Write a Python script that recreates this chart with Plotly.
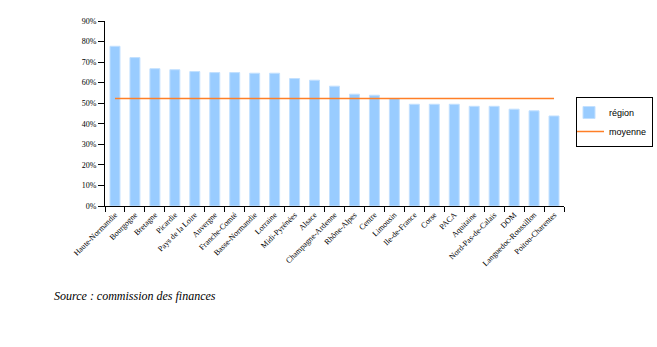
import plotly.graph_objects as go

regions = ["Haute-Normandie", "Bourgogne", "Bretagne", "Picardie", "Pays de la Loire",
           "Auvergne", "Franche-Comté", "Basse-Normandie", "Lorraine", "Midi-Pyrénées",
           "Alsace", "Champagne-Ardenne", "Rhône-Alpes", "Centre", "Limousin",
           "Ile-de-France", "Corse", "PACA", "Aquitaine", "Nord-Pas-de-Calais", "DOM",
           "Languedoc-Roussillon", "Poitou-Charentes"]
region_values = [0.777, 0.722, 0.668, 0.663, 0.654, 0.649, 0.649, 0.646, 0.646, 0.620,
                 0.612, 0.583, 0.544, 0.539, 0.523, 0.495, 0.495, 0.495, 0.485, 0.485,
                 0.471, 0.463, 0.438]
moyenne = 0.523
moyenne_values = [moyenne] * len(regions)
y_ticks = [0, 0.1, 0.2, 0.3, 0.4, 0.5, 0.6, 0.7, 0.8, 0.9]
y_labels = ["0%", "10%", "20%", "30%", "40%", "50%", "60%", "70%", "80%", "90%"]

fig = go.Figure()
fig.add_trace(go.Bar(x=regions, y=region_values, name="région", width=0.5,
                     marker=dict(color="#99CCFF", line=dict(color="#C2E0FF", width=1))))
fig.add_trace(go.Scatter(x=regions, y=moyenne_values, name="moyenne", mode="lines",
                         line=dict(color="#FF7F27", width=1.5)))

fig.update_layout(
    width=657, height=347,
    margin=dict(l=105, r=90, t=21, b=141),
    paper_bgcolor="white", plot_bgcolor="white",
    font=dict(family="Liberation Serif", size=8, color="black"),
    showlegend=True,
    legend=dict(xref="container", yref="container", x=576 / 657, y=1 - 97 / 347,
                xanchor="left", yanchor="top",
                bordercolor="black", borderwidth=1, bgcolor="white",
                font=dict(family="Liberation Sans", size=9, color="black"),
                tracegroupgap=0, itemwidth=30, indentation=-8),
    xaxis=dict(type="category", range=[-0.5, len(regions) - 0.5], tickangle=-45,
               showline=True, linecolor="black", linewidth=1,
               ticks="outside", tickson="boundaries", ticklen=5, tickcolor="black",
               showgrid=False, tickfont=dict(family="Liberation Serif", size=8)),
    yaxis=dict(range=[0, 0.9], tickvals=y_ticks, ticktext=y_labels,
               showline=True, linecolor="black", linewidth=1,
               ticks="outside", ticklen=6, tickcolor="black",
               showgrid=False, zeroline=False,
               tickfont=dict(family="Liberation Serif", size=8)),
    annotations=[dict(text="<i>Source : commission des finances</i>", xref="paper", yref="paper",
                      x=-0.115, y=-0.486, xanchor="left", yanchor="middle", showarrow=False,
                      font=dict(family="Liberation Serif", size=12, color="black"))],
)

fig.write_html("out.html")
